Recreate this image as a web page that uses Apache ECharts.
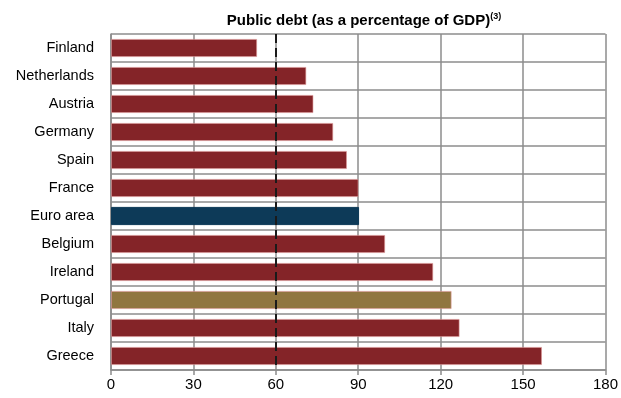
<!DOCTYPE html>
<html>
<head>
<meta charset="utf-8">
<script src="https://cdn.jsdelivr.net/npm/echarts@6/dist/echarts.min.js"></script>
<style>
  html, body { margin: 0; padding: 0; background: #fff; }
  #chart { width: 621px; height: 398px; }
</style>
</head>
<body>
<div id="chart"></div>
<script>
// 国家 / 数值（占GDP百分比）
const countries = ["Finland", "Netherlands", "Austria", "Germany", "Spain", "France",
  "Euro area", "Belgium", "Ireland", "Portugal", "Italy", "Greece"];
const debt = [53.2, 71.1, 73.7, 80.9, 85.9, 90.1, 90.3, 99.8, 117.3, 124.0, 126.9, 156.9];
const xTicks = [0, 30, 60, 90, 120, 150, 180];
const threshold = 60; // 60% 参考线

const colorDefault = "#842428";
const colorSpecial = { "Euro area": "#0d3a58", "Portugal": "#907640" };
const font = "'Liberation Sans', Arial, sans-serif";

const chart = echarts.init(document.getElementById("chart"));

const option = {
  animation: false,
  title: {
    text: "{t|Public debt (as a percentage of GDP)}{s|(3)}",
    left: 359,
    textAlign: "center",
    top: 7,
    textStyle: {
      rich: {
        t: { fontFamily: font, fontSize: 15, fontWeight: "bold", color: "#000" },
        s: { fontFamily: font, fontSize: 9, fontWeight: "bold", color: "#000", verticalAlign: "top", padding: [0, 0, 9, 0] },
      },
    },
  },
  grid: { left: 111, right: 14, top: 34, bottom: 28 },
  xAxis: {
    type: "value",
    min: xTicks[0],
    max: xTicks[xTicks.length - 1],
    interval: 30,
    axisLine: { show: true, lineStyle: { color: "#8c8c8c", width: 1.5 } },
    axisTick: { show: true, length: 5, lineStyle: { color: "#8c8c8c", width: 1.5 } },
    axisLabel: { fontFamily: font, fontSize: 15, color: "#000", margin: 7 },
    splitLine: { show: true, lineStyle: { color: "#8c8c8c", width: 1.5 } },
  },
  yAxis: {
    type: "category",
    inverse: true,
    data: countries,
    axisLine: { show: true, lineStyle: { color: "#8c8c8c", width: 1.5 } },
    axisTick: { show: false },
    axisLabel: { fontFamily: font, fontSize: 14.5, color: "#000", margin: 17 },
    splitLine: { show: true, interval: 0, lineStyle: { color: "#8c8c8c", width: 1.5 } },
  },
  series: [
    {
      type: "bar",
      barCategoryGap: "35%",
      data: countries.map((c, i) => ({
        value: debt[i],
        itemStyle: {
          color: colorSpecial[c] || colorDefault,
          borderColor: c === "Euro area" ? "#0d3a58" : "rgba(220,150,150,0.6)",
          borderWidth: 1,
        },
      })),
      markLine: {
        silent: true,
        symbol: "none",
        label: { show: false },
        lineStyle: { color: "#1a1a1a", type: [9, 5], width: 2 },
        data: [{ xAxis: threshold }],
      },
    },
  ],
};

chart.setOption(option);
</script>
</body>
</html>
